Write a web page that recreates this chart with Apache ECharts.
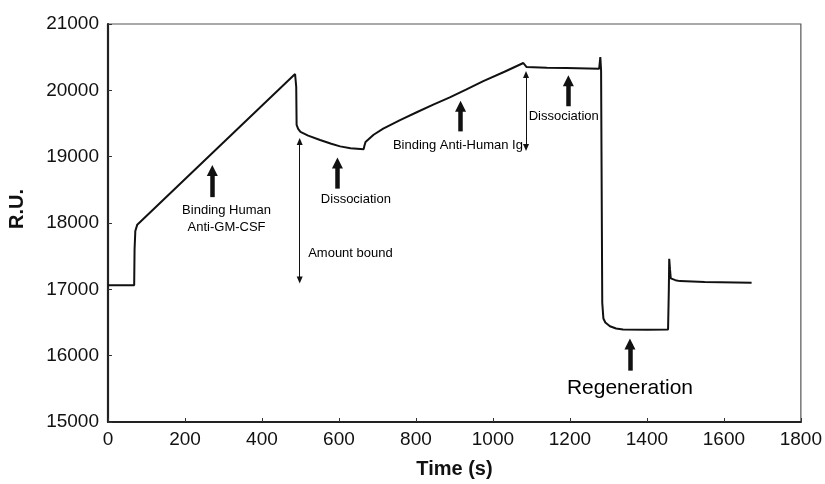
<!DOCTYPE html>
<html>
<head>
<meta charset="utf-8">
<script src="https://cdn.jsdelivr.net/npm/echarts@6/dist/echarts.min.js"></script>
<style>
  html, body { margin: 0; padding: 0; background: #fff; }
  #chart { width: 825px; height: 484px; }
</style>
</head>
<body>
<div id="chart"></div>
<script>
// sensorgram trace: [time (s), response (R.U.)]
const trace = [
  [0, 17060], [68, 17060], [69, 17600], [71, 17880], [76, 17975],
  [486, 20246], [489, 20050], [490, 19480], [494, 19420], [500, 19375],
  [520, 19318], [551, 19252], [580, 19195], [603, 19155], [630, 19128],
  [664, 19110], [666, 19160], [669, 19222], [690, 19330], [715, 19422],
  [760, 19555], [802, 19670], [845, 19785], [888, 19893], [930, 20010],
  [975, 20140], [1030, 20280], [1079, 20412], [1087, 20352], [1140, 20342],
  [1191, 20337], [1276, 20327], [1279, 20500], [1281, 20300], [1284, 16800],
  [1287, 16560], [1292, 16500], [1304, 16444], [1320, 16410], [1338, 16394],
  [1400, 16392], [1455, 16394], [1457, 17000], [1458, 17461], [1460, 17300],
  [1462, 17165], [1474, 17138], [1486, 17124], [1550, 17110], [1672, 17099]
];

// thick arrows: [x, bottom, tip]
const bigArrows = [
  [271, 18390, 18790],
  [596, 18518, 18905],
  [916, 19381, 19760],
  [1196, 19760, 20145],
  [1356, 15774, 16175]
];

// thin double arrows: [x, top, bottom]
const spanArrows = [
  [498, 19230, 17140],
  [1086, 20240, 19140]
];

// annotation texts: [x, y, text, align, fontSize]
const notes = [
  [308, 18059, 'Binding Human\nAnti-GM-CSF', 'center', 13],
  [644, 18354, 'Dissociation', 'center', 13],
  [520, 17546, 'Amount bound', 'left', 13],
  [1078, 19173, 'Binding Anti-Human Ig', 'right', 13],
  [1184, 19611, 'Dissociation', 'center', 13],
  [1356, 15510, 'Regeneration', 'center', 21]
];

const xTicks = { min: 0, max: 1800, interval: 200 };
const yTicks = { min: 15000, max: 21000, interval: 1000 };

const font = '"Liberation Sans", Arial, Helvetica, sans-serif';
const ink = '#111';

const markLines = [];
bigArrows.forEach(a => {
  markLines.push([
    { coord: [a[0], a[1]], symbol: 'none' },
    { coord: [a[0], a[2]], symbol: 'triangle', symbolSize: [11, 11],
      lineStyle: { width: 4.5, color: ink, type: 'solid' } }
  ]);
});
spanArrows.forEach(a => {
  markLines.push([
    { coord: [a[0], a[1]], symbol: 'triangle', symbolSize: [6, 7] },
    { coord: [a[0], a[2]], symbol: 'triangle', symbolSize: [6, 7],
      lineStyle: { width: 1, color: ink, type: 'solid' } }
  ]);
});

const chart = echarts.init(document.getElementById('chart'));
chart.setOption({
  animation: false,
  backgroundColor: '#fff',
  textStyle: { fontFamily: font },
  grid: {
    left: 108, right: 24, top: 24, bottom: 57,
    show: true, borderColor: '#555', borderWidth: 1.2
  },
  xAxis: {
    type: 'value',
    min: xTicks.min, max: xTicks.max, interval: xTicks.interval,
    name: 'Time (s)', nameLocation: 'middle', nameGap: 37,
    nameTextStyle: { fontFamily: font, fontSize: 20, fontWeight: 'bold', color: ink },
    axisLine: { lineStyle: { color: '#222', width: 2.2 } },
    axisTick: { inside: true, length: 4, lineStyle: { color: '#333', width: 1 } },
    axisLabel: { fontFamily: font, fontSize: 19, color: ink, margin: 8,
      formatter: v => String(v) },
    splitLine: { show: false }
  },
  yAxis: {
    type: 'value',
    min: yTicks.min, max: yTicks.max, interval: yTicks.interval,
    axisLine: { show: true, lineStyle: { color: '#222', width: 2.2 } },
    axisTick: { show: true, inside: true, length: 4, lineStyle: { color: '#333', width: 1 } },
    axisLabel: { fontFamily: font, fontSize: 19, color: ink, margin: 9,
      formatter: v => String(v) },
    splitLine: { show: false }
  },
  graphic: [{
    type: 'text',
    x: 17, y: 209,
    rotation: Math.PI / 2,
    style: {
      text: 'R.U.', fill: ink, font: 'bold 20px ' + font,
      textAlign: 'center', textVerticalAlign: 'middle'
    }
  }],
  series: [
    {
      type: 'line',
      data: trace,
      showSymbol: false,
      lineStyle: { color: ink, width: 2 },
      markLine: {
        silent: true,
        symbol: 'none',
        label: { show: false },
        lineStyle: { color: ink, type: 'solid' },
        data: markLines
      }
    },
    {
      type: 'scatter',
      symbolSize: 0,
      silent: true,
      itemStyle: { color: '#000' },
      data: notes.map(n => ({
        value: [n[0], n[1]],
        label: {
          show: true, position: 'inside', formatter: n[2],
          align: n[3], verticalAlign: 'middle',
          fontFamily: font, fontSize: n[4], color: '#000', opacity: 1,
          textBorderWidth: 0,
          lineHeight: Math.round(n[4] * 1.3)
        }
      }))
    }
  ]
});
</script>
</body>
</html>
